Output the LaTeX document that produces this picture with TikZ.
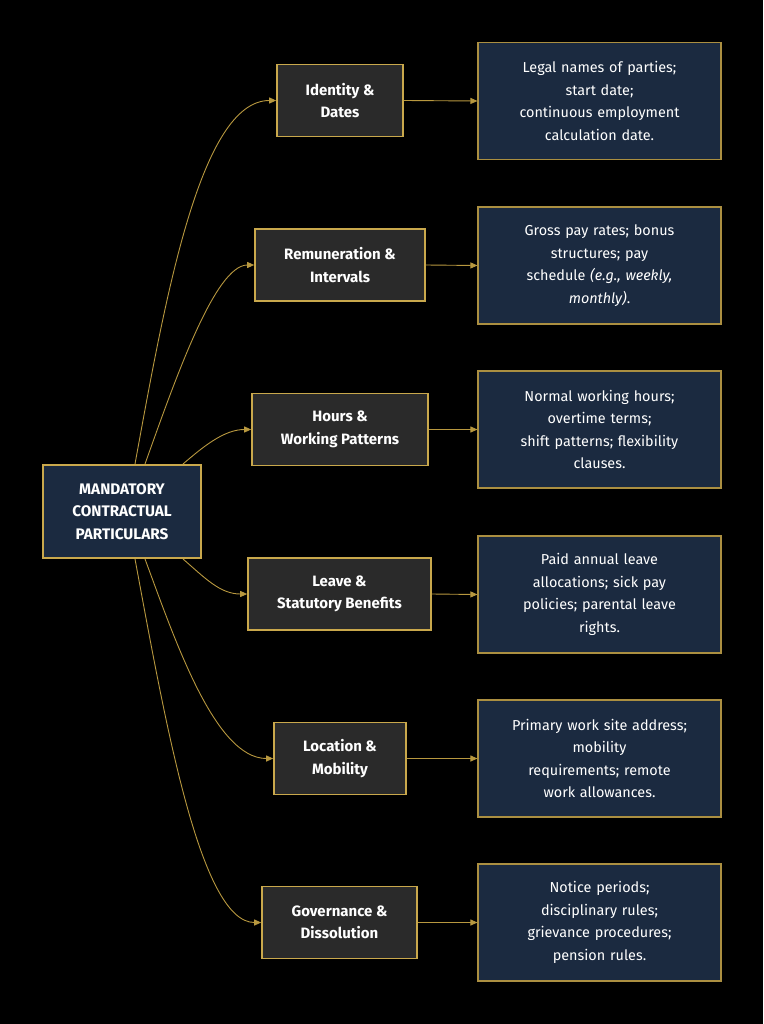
\documentclass[tikz,border=0pt]{standalone}
\usepackage{fontspec}
\setmainfont{Fira Sans}
\usetikzlibrary{arrows.meta}
\definecolor{gold}{HTML}{C9A84C}
\definecolor{line}{HTML}{B8983F}
\definecolor{navy}{HTML}{1B2A40}
\definecolor{dgrey}{HTML}{2A2A2A}
\begin{document}
\begin{tikzpicture}[x=1pt,y=-1pt,
 root/.style={draw=gold,line width=2.2pt,fill=navy,text=white,font=\fontsize{15.3}{22.5}\selectfont\bfseries,align=center,minimum width=158pt,minimum height=93pt,inner sep=0pt},
 mid/.style={draw=gold,line width=1.6pt,fill=dgrey,text=white,font=\fontsize{15}{22.5}\selectfont\bfseries,align=center,minimum height=72pt,inner sep=0pt},
 det/.style={draw=gold!85!black,line width=1.1pt,fill=navy,text=white,font=\fontsize{14.4}{22.5}\selectfont,align=center,minimum width=243pt,minimum height=117pt,inner sep=0pt,text width=230pt},
 con/.style={draw=line,line width=0.9pt,-{Triangle[length=7pt,width=6pt]}}]
\fill[black] (0,0) rectangle (763,1024);
\useasboundingbox (0,0) rectangle (763,1024);
\node[root] (r) at (122,511.5) {MANDATORY\\CONTRACTUAL\\PARTICULARS};
\node[mid,minimum width=126pt] (a) at (340,100.5) {Identity \&\\Dates};
\node[mid,minimum width=170pt] (b) at (340,265) {Remuneration \&\\Intervals};
\node[mid,minimum width=176pt] (c) at (340,429.5) {Hours \&\\Working Patterns};
\node[mid,minimum width=183pt] (d) at (339.5,594) {Leave \&\\Statutory Benefits};
\node[mid,minimum width=132pt] (e) at (340,758.5) {Location \&\\Mobility};
\node[mid,minimum width=155pt] (f) at (339.5,922.5) {Governance \&\\Dissolution};
\node[det] (a2) at (599.5,101) {Legal names of parties;\\start date;\\continuous employment\\calculation date.};
\node[det] (b2) at (599.5,265.5) {Gross pay rates; bonus\\structures; pay\\schedule \textit{(e.g., weekly,}\\\textit{monthly)}.};
\node[det] (c2) at (599.5,429.5) {Normal working hours;\\overtime terms;\\shift patterns; flexibility\\clauses.};
\node[det] (d2) at (599.5,594.5) {Paid annual leave\\allocations; sick pay\\policies; parental leave\\rights.};
\node[det] (e2) at (599.5,758.5) {Primary work site address;\\mobility\\requirements; remote\\work allowances.};
\node[det] (f2) at (599.5,922.5) {Notice periods;\\disciplinary rules;\\grievance procedures;\\pension rules.};
\coordinate (s1) at (135,464);
\coordinate (s2) at (145,464);
\coordinate (s3) at (183,464);
\coordinate (s4) at (183,559);
\coordinate (s5) at (145,559);
\coordinate (s6) at (135,559);
\draw[con] (s1) .. controls (165,300) and (200,100.5) .. (a.west);
\draw[con] (s2) .. controls (175,380) and (215,265) .. (b.west);
\draw[con] (s3) .. controls (205,445) and (225,429.5) .. (c.west);
\draw[con] (s4) .. controls (205,578) and (220,594) .. (d.west);
\draw[con] (s5) .. controls (175,640) and (215,758.5) .. (e.west);
\draw[con] (s6) .. controls (165,720) and (200,922.5) .. (f.west);
\foreach \p in {a,b,c,d,e,f} \draw[con] (\p.east) -- (\p2.west);
\end{tikzpicture}
\end{document}
